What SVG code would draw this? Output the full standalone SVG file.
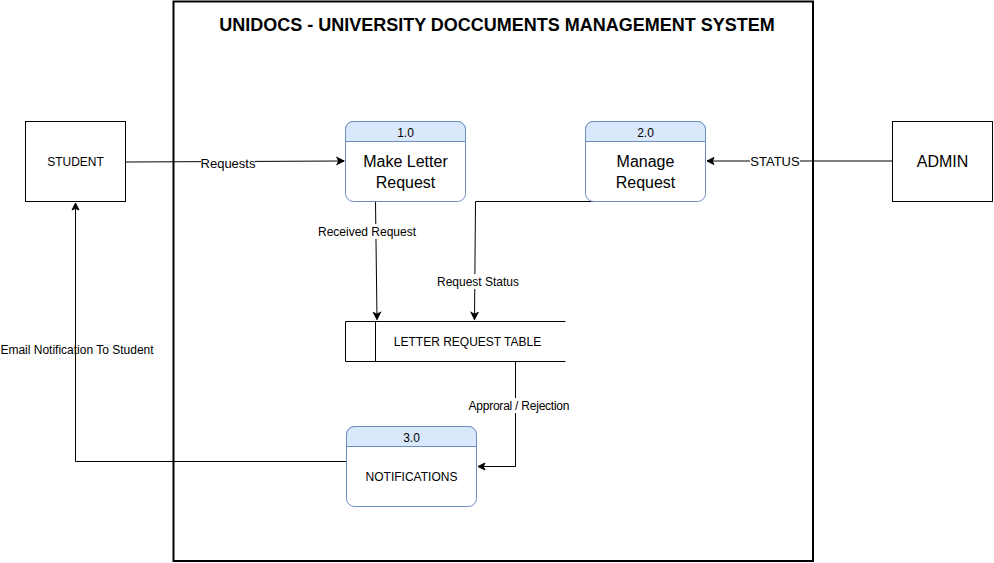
<svg xmlns="http://www.w3.org/2000/svg" width="994" height="563" viewBox="0 0 994 563">
<style>
text{font-family:"Liberation Sans",Arial,sans-serif;fill:#000;}
.c{text-anchor:middle;}
.s12{font-size:12px;}
.s16{font-size:16px;}
.lbl{font-size:12px;text-anchor:middle;}
.lbl13{font-size:13px;text-anchor:middle;}
.ent{fill:#fff;stroke:#000;stroke-width:1;}
.proc{fill:#fff;stroke:#6c8ebf;stroke-width:1;}
.hdr{fill:#dae8fc;stroke:#6c8ebf;stroke-width:1;}
.edge{fill:none;stroke:#000;stroke-width:1;}
</style>
<defs>
<marker id="arr" markerWidth="10" markerHeight="10" refX="8" refY="5" orient="auto" markerUnits="userSpaceOnUse">
<path d="M1,1.5 L8,5 L1,8.5 L2.8,5 Z" fill="#000" stroke="#000" stroke-width="1"/>
</marker>
</defs>
<rect x="0" y="0" width="994" height="563" fill="#fff"/>
<g id="frame">
<rect x="173.5" y="1.5" width="639.5" height="559.5" fill="none" stroke="#000" stroke-width="2"/>
<text x="497" y="30.5" class="c" style="font-size:18px;font-weight:bold">UNIDOCS - UNIVERSITY DOCCUMENTS MANAGEMENT SYSTEM</text>
</g>
<g id="connectors">
<path class="edge" d="M125.5,162 L344,161" marker-end="url(#arr)"/>
<rect x="201" y="155" width="54" height="15" fill="#fff"/>
<text x="228" y="167.5" class="lbl13">Requests</text>
<path class="edge" d="M892,161 L707,161" marker-end="url(#arr)"/>
<rect x="750" y="154" width="50" height="15" fill="#fff"/>
<text x="775" y="165.5" class="lbl13">STATUS</text>
<path class="edge" d="M375.5,201.5 L377,319.5" marker-end="url(#arr)"/>
<rect x="318" y="224" width="98" height="15" fill="#fff"/>
<text x="367" y="236" class="lbl">Received Request</text>
<path class="edge" d="M615,201.5 L475.5,201.5 L474.5,319.5" marker-end="url(#arr)"/>
<rect x="437" y="274" width="82" height="15" fill="#fff"/>
<text x="478" y="286" class="lbl">Request Status</text>
<path class="edge" d="M515.5,361.5 L515.5,466.5 L478,466.5" marker-end="url(#arr)"/>
<rect x="468" y="398" width="102" height="15" fill="#fff"/>
<text x="519" y="410" class="lbl" textLength="101">Approral / Rejection</text>
<path class="edge" d="M346.5,461.5 L75.5,461.5 L75.5,203" marker-end="url(#arr)"/>
<text x="77" y="354" class="lbl">Email Notification To Student</text>
</g>
<g id="student">
<rect class="ent" x="25.5" y="121.5" width="100" height="80"/>
<text x="75.5" y="166" class="c s12">STUDENT</text>
</g>
<g id="admin">
<rect class="ent" x="892.5" y="121.5" width="100" height="80"/>
<text x="942.5" y="167" class="c s16">ADMIN</text>
</g>
<g id="p1">
<rect class="proc" x="345.5" y="121.5" width="120" height="80" rx="8"/>
<path class="hdr" d="M345.5,141.5 V129.5 A8,8 0 0 1 353.5,121.5 H457.5 A8,8 0 0 1 465.5,129.5 V141.5 Z"/>
<text x="405.5" y="136.5" class="c s12">1.0</text>
<text x="405.5" y="167" class="c s16">Make Letter</text>
<text x="405.5" y="188" class="c s16">Request</text>
</g>
<g id="p2">
<rect class="proc" x="585.5" y="121.5" width="120" height="80" rx="8"/>
<path class="hdr" d="M585.5,141.5 V129.5 A8,8 0 0 1 593.5,121.5 H697.5 A8,8 0 0 1 705.5,129.5 V141.5 Z"/>
<text x="645.5" y="136.5" class="c s12">2.0</text>
<text x="645.5" y="167" class="c s16">Manage</text>
<text x="645.5" y="188" class="c s16">Request</text>
</g>
<g id="p3">
<rect class="proc" x="346.5" y="426.5" width="130" height="80" rx="8"/>
<path class="hdr" d="M346.5,446.5 V434.5 A8,8 0 0 1 354.5,426.5 H468.5 A8,8 0 0 1 476.5,434.5 V446.5 Z"/>
<text x="411.5" y="441.5" class="c s12">3.0</text>
<text x="411.5" y="481" class="c s12">NOTIFICATIONS</text>
</g>
<g id="store">
<rect x="345.5" y="321.5" width="220" height="40" fill="#fff" stroke="none"/>
<path class="edge" d="M565.5,321.5 H345.5 V361.5 H565.5 M375.5,321.5 V361.5"/>
<text x="467.5" y="346" class="c s12">LETTER REQUEST TABLE</text>
</g>
</svg>
